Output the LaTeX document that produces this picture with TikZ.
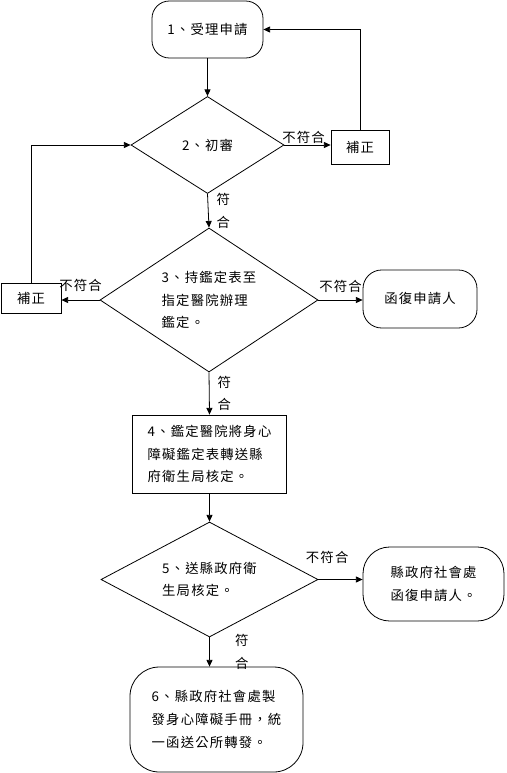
\documentclass[tikz,border=0pt]{standalone}
\usepackage{fontspec}
\setmainfont{Noto Sans CJK TC}[LetterSpace=9]
\usetikzlibrary{shapes.geometric,arrows.meta}

\begin{document}
\begin{tikzpicture}[x=0.75pt, y=-0.75pt, line width=0.6pt,
		every node/.style={font=\fontsize{10}{17}\selectfont, inner sep=0pt},
		arr/.style={-{Triangle[length=5pt, width=4.5pt]}},
		stadium/.style={draw, rectangle, rounded corners=#1},
		decision/.style={draw, diamond, aspect=1.5},
		box/.style={draw, rectangle},
		yes/.style={align=center}]
	\useasboundingbox (0, 0) rectangle (506, 773);

	\node[stadium=13pt, minimum width=83.25pt, minimum height=42.75pt]	(apply) at (207.5, 29.5) {1、受理申請};
	\node[decision, minimum width=114.75pt, minimum height=72.75pt]		(review) at (207.5, 145) {2、初審};
	\node[box, minimum width=43.5pt, minimum height=25.5pt]				(fixA) at (360, 147) {補正};
	\node[decision, minimum width=163.5pt, minimum height=108pt, align=left]	(assess) at (209, 300) {3、持鑑定表至\\指定醫院辦理\\鑑定。};
	\node[box, minimum width=45pt, minimum height=22.5pt]				(fixB) at (31, 298) {補正};
	\node[stadium=14pt, minimum width=85.5pt, minimum height=43.5pt]	(replyA) at (420, 299) {函復申請人};
	\node[box, minimum width=115.5pt, minimum height=58.5pt, align=left]	(forward) at (209.5, 454) {4、鑑定醫院將身心\\障礙鑑定表轉送縣\\府衛生局核定。};
	\node[decision, minimum width=162.75pt, minimum height=86.25pt, align=left]	(approve) at (209.5, 579.5) {5、送縣政府衛\\生局核定。};
	\node[stadium=20pt, minimum width=105.75pt, minimum height=55.5pt, align=center]	(replyB) at (433.5, 584) {縣政府社會處\\函復申請人。};
	\node[stadium=22pt, minimum width=129.75pt, minimum height=78.75pt, align=left]	(issue) at (216.5, 719.5) {6、縣政府社會處製\\發身心障礙手冊，統\\一函送公所轉發。};

	\draw[arr]	(apply) to (review);
	\draw[arr]	(review.east) to node[above=1pt, xshift=-3pt] (noA) {不符合} (review.east -| fixA.west);
	\draw[arr]	(fixA.north) |- (apply.east);
	\draw[arr]	(review.south) to node[right=6pt, yes] (yesA) {符\\合} (assess.north);
	\draw[arr]	(assess.west) to node[above=6pt] (noB) {不符合} (assess.west -| fixB.east);
	\draw[arr]	(fixB.north) |- (review.west);
	\draw[arr]	(assess.east) to node[above=5pt] (noC) {不符合} (assess.east -| replyA.west);
	\draw[arr]	(assess.south) to node[right=6pt, yes] (yesB) {符\\合} (forward.north);
	\draw[arr]	(forward.south) to (approve.north);
	\draw[arr]	(approve.east) to node[above=12pt, xshift=-10pt] (noD) {不符合} (approve.east -| replyB.west);
	\draw[arr]	(approve.south) to node[right=19pt, yes] (yesC) {符\\合} (approve.south |- issue.north);
\end{tikzpicture}
\end{document}
